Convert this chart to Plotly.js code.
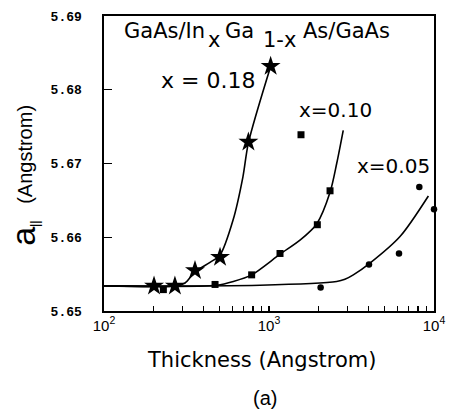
<!DOCTYPE html>
<html>
<head>
<meta charset="utf-8">
<script src="https://cdn.plot.ly/plotly-3.0.1.min.js"></script>
<style>html,body{margin:0;padding:0;background:#fff;}</style>
</head>
<body>
<div id="chart" style="width:449px;height:417px;"></div>
<script>
// Measured points (thickness in Angstrom, a|| in Angstrom)
var x18Thick = [201, 269, 356, 505, 750, 1023];
var x18Lat   = [5.6534, 5.6534, 5.6555, 5.6573, 5.6729, 5.6832];

var x10Thick = [229, 471, 785, 1166, 1563, 1963, 2344];
var x10Lat   = [5.6529, 5.6536, 5.6549, 5.6578, 5.6739, 5.6617, 5.6663];

var x05Thick = [2055, 4036, 6135, 8147, 10000];
var x05Lat   = [5.6532, 5.6563, 5.6578, 5.6668, 5.6638];

// Fitted curves
var fit18Thick = [100, 273, 310, 356, 439, 505, 605, 695, 750, 1024];
var fit18Lat   = [5.6534, 5.6534, 5.6538, 5.6553, 5.6566, 5.6576, 5.6623, 5.6682, 5.6728, 5.6832];

var fit10Thick = [100, 482, 608, 785, 1166, 1541, 1945, 2344, 2572, 2818];
var fit10Lat   = [5.6534, 5.6535, 5.6540, 5.6549, 5.6577, 5.6596, 5.6618, 5.6661, 5.6700, 5.6745];

var fit05Thick = [100, 882, 2571, 2885, 3243, 4093, 6222, 9246];
var fit05Lat   = [5.6534, 5.6535, 5.6540, 5.6543, 5.6549, 5.6565, 5.6601, 5.6656];

// Axis ticks
var xTickVals = [100, 1000, 10000];
var xTickText = ['10<sup>2</sup>', '10<sup>3</sup>', '10<sup>4</sup>'];
var xMinorVals = [200,300,400,500,600,700,800,900,2000,3000,4000,5000,6000,7000,8000,9000];
var yTickVals = [5.65, 5.66, 5.67, 5.68, 5.69];
var yTickText = ['5.65', '5.66', '5.67', '5.68', '5.69'];

var sans = 'Liberation Sans, Arial, sans-serif';
var wide = 'DejaVu Sans, Verdana, sans-serif';

function line(x, y) {
  return {x: x, y: y, type: 'scatter', mode: 'lines',
    line: {color: '#000', width: 1.6, shape: 'spline', smoothing: 0.8},
    cliponaxis: false, hoverinfo: 'skip', showlegend: false};
}
function pts(x, y, sym, size) {
  return {x: x, y: y, type: 'scatter', mode: 'markers',
    marker: {symbol: sym, size: size, color: '#000', line: {width: 0}},
    cliponaxis: false, showlegend: false};
}

var data = [
  line(fit18Thick, fit18Lat),
  line(fit10Thick, fit10Lat),
  line(fit05Thick, fit05Lat),
  pts(x18Thick, x18Lat, 'star', 15),
  pts(x10Thick, x10Lat, 'square', 7),
  pts(x05Thick, x05Lat, 'circle', 6.5)
];

function note(x, y, text, size, family, xanchor) {
  return {xref: 'paper', yref: 'paper', x: x, y: y, xanchor: xanchor || 'left', yanchor: 'middle',
    showarrow: false, text: text, font: {family: family || wide, size: size, color: '#000'}};
}

var layout = {
  width: 449, height: 417,
  margin: {l: 104, r: 15, t: 16, b: 106},
  paper_bgcolor: '#fff', plot_bgcolor: '#fff',
  showlegend: false,
  xaxis: {
    type: 'log', range: [2, 4],
    tickmode: 'array', tickvals: xTickVals, ticktext: xTickText,
    ticks: 'inside', ticklen: 5, tickwidth: 1.2, tickcolor: '#000',
    minor: {tickmode: 'array', tickvals: xMinorVals, ticks: 'inside', ticklen: 5, tickwidth: 1.2, tickcolor: '#000', showgrid: false},
    showline: true, mirror: true, linecolor: '#000', linewidth: 1.6,
    showgrid: false, zeroline: false,
    tickfont: {family: sans, size: 15, color: '#000'}
  },
  yaxis: {
    range: [5.65, 5.69],
    tickmode: 'array', tickvals: yTickVals, ticktext: yTickText,
    ticks: 'inside', ticklen: 8, tickwidth: 1.2, tickcolor: '#000',
    showline: true, mirror: true, linecolor: '#000', linewidth: 1.6,
    showgrid: false, zeroline: false,
    ticklabelstandoff: 18,
    tickfont: {family: 'Liberation Mono, Courier New, monospace', size: 13, color: '#000', weight: 'bold'}
  },
  annotations: [
    note(0.0545, 0.950, 'GaAs/In', 21),
    note(0.309, 0.919, 'x', 21),
    note(0.361, 0.950, 'Ga', 21),
    note(0.477, 0.919, '1-x', 21),
    note(0.598, 0.950, 'As/GaAs', 21),
    note(0.168, 0.783, 'x = 0.18', 22),
    note(0.585, 0.681, 'x=0.10', 20),
    note(0.762, 0.4915, 'x=0.05', 20),
    note(0.479, -0.166, 'Thickness (Angstrom)', 21, wide, 'center'),
    note(0.488, -0.295, '(a)', 20, sans, 'center'),
    {xref: 'paper', yref: 'paper', x: -0.245, y: 0.262, xanchor: 'center', yanchor: 'middle', showarrow: false,
     textangle: -90,
     text: '<span style="font-size:34px">a</span><sub>||</sub>', font: {family: sans, size: 18, color: '#000'}},
    {xref: 'paper', yref: 'paper', x: -0.24, y: 0.532, xanchor: 'center', yanchor: 'middle', showarrow: false,
     textangle: -90,
     text: '(Angstrom)', font: {family: sans, size: 20, color: '#000'}}
  ]
};

Plotly.newPlot('chart', data, layout, {staticPlot: true, displayModeBar: false});
</script>
</body>
</html>
